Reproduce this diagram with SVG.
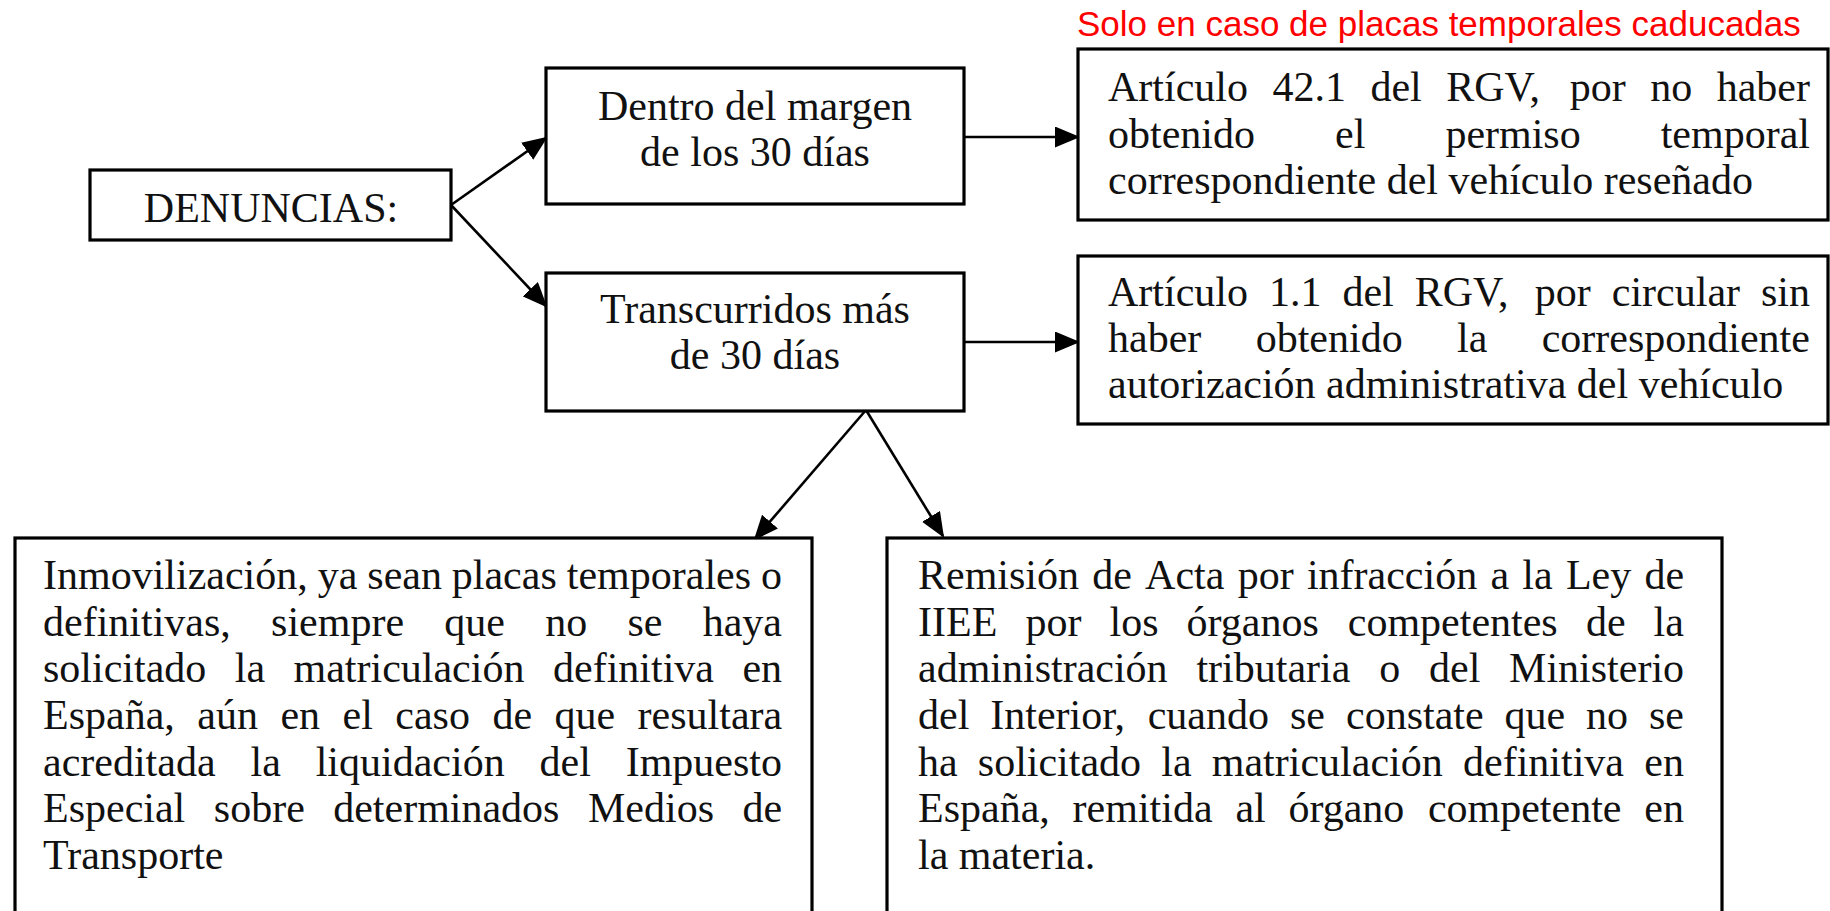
<svg xmlns="http://www.w3.org/2000/svg" width="1830" height="911" viewBox="0 0 1830 911">
<style>
.box { fill: #ffffff; stroke: #000000; stroke-width: 3.2; }
.t { font-family: "Liberation Serif", "Times New Roman", serif; font-size: 42px; fill: #111111; }
.c { text-anchor: middle; }
.red { font-family: "Liberation Sans", Arial, sans-serif; font-size: 35px; fill: #ff0000; }
.conn { stroke: #000000; stroke-width: 2.6; fill: none; marker-end: url(#arrow); }
</style>
<defs>
<marker id="arrow" markerUnits="userSpaceOnUse" markerWidth="25" markerHeight="21" refX="23" refY="10.5" orient="auto">
<path d="M0,0 L25,10.5 L0,21 z" fill="#000000"/>
</marker>
</defs>
<rect x="0" y="0" width="1830" height="911" fill="#ffffff"/>

<g id="connectors">
<path class="conn" d="M451,205 L546,138"/>
<path class="conn" d="M451,205 L546,306"/>
<path class="conn" d="M964,137 L1078,137"/>
<path class="conn" d="M964,342 L1078,342"/>
<path class="conn" d="M866,410 L755,539"/>
<path class="conn" d="M866,410 L943,536"/>
</g>

<g id="note-red">
<text class="red" x="1077" y="36">Solo en caso de placas temporales caducadas</text>
</g>

<g id="node-denuncias">
<rect class="box" x="90" y="170" width="361" height="70"/>
<text class="t c" x="271" y="222">DENUNCIAS:</text>
</g>

<g id="node-dentro">
<rect class="box" x="546" y="68" width="418" height="136"/>
<text class="t c" x="755" y="120">Dentro del margen</text>
<text class="t c" x="755" y="166">de los 30 días</text>
</g>

<g id="node-transcurridos">
<rect class="box" x="546" y="273" width="418" height="138"/>
<text class="t c" x="755" y="323">Transcurridos más</text>
<text class="t c" x="755" y="369">de 30 días</text>
</g>

<g id="node-art42">
<rect class="box" x="1078" y="49" width="750" height="171"/>
<text class="t" y="101"><tspan x="1108">Artículo</tspan> <tspan x="1272.4">42.1</tspan> <tspan x="1370.4">del</tspan> <tspan x="1446.2">RGV,</tspan> <tspan x="1569.8">por</tspan> <tspan x="1650.3">no</tspan> <tspan x="1716.7">haber</tspan></text>
<text class="t" y="148"><tspan x="1108">obtenido</tspan> <tspan x="1335">el</tspan> <tspan x="1445.4">permiso</tspan> <tspan x="1660.7">temporal</tspan></text>
<text class="t" x="1108" y="194">correspondiente del vehículo reseñado</text>
</g>

<g id="node-art1">
<rect class="box" x="1078" y="256" width="750" height="168"/>
<text class="t" y="306"><tspan x="1108">Artículo</tspan> <tspan x="1269">1.1</tspan> <tspan x="1342.4">del</tspan> <tspan x="1414.7">RGV,</tspan> <tspan x="1534.8">por</tspan> <tspan x="1611.8">circular</tspan> <tspan x="1761">sin</tspan></text>
<text class="t" y="352"><tspan x="1108">haber</tspan> <tspan x="1255.7">obtenido</tspan> <tspan x="1457">la</tspan> <tspan x="1541.7">correspondiente</tspan></text>
<text class="t" x="1108" y="398">autorización administrativa del vehículo</text>
</g>

<g id="node-inmovilizacion">
<rect class="box" x="15" y="538" width="797" height="420"/>
<text class="t" y="589"><tspan x="43">Inmovilización,</tspan> <tspan x="317.7">ya</tspan> <tspan x="367.3">sean</tspan> <tspan x="451.8">placas</tspan> <tspan x="566.8">temporales</tspan> <tspan x="761">o</tspan></text>
<text class="t" y="635.7"><tspan x="43">definitivas,</tspan> <tspan x="271.1">siempre</tspan> <tspan x="444.3">que</tspan> <tspan x="545.2">no</tspan> <tspan x="627.5">se</tspan> <tspan x="702.7">haya</tspan></text>
<text class="t" y="682.3"><tspan x="43">solicitado</tspan> <tspan x="234.8">la</tspan> <tspan x="293.5">matriculación</tspan> <tspan x="553">definitiva</tspan> <tspan x="742.4">en</tspan></text>
<text class="t" y="729"><tspan x="43">España,</tspan> <tspan x="197.3">aún</tspan> <tspan x="280.4">en</tspan> <tspan x="342.5">el</tspan> <tspan x="395.3">caso</tspan> <tspan x="492.4">de</tspan> <tspan x="554.5">que</tspan> <tspan x="637.6">resultara</tspan></text>
<text class="t" y="775.7"><tspan x="43">acreditada</tspan> <tspan x="250.5">la</tspan> <tspan x="315.7">liquidación</tspan> <tspan x="539.6">del</tspan> <tspan x="625.7">Impuesto</tspan></text>
<text class="t" y="822.3"><tspan x="43">Especial</tspan> <tspan x="213.8">sobre</tspan> <tspan x="333.2">determinados</tspan> <tspan x="588">Medios</tspan> <tspan x="742.4">de</tspan></text>
<text class="t" x="43" y="869">Transporte</text>
</g>

<g id="node-remision">
<rect class="box" x="887" y="538" width="835" height="420"/>
<text class="t" y="589"><tspan x="918">Remisión</tspan> <tspan x="1092.3">de</tspan> <tspan x="1145.1">Acta</tspan> <tspan x="1237.7">por</tspan> <tspan x="1306.9">infracción</tspan> <tspan x="1490.5">a</tspan> <tspan x="1522.3">la</tspan> <tspan x="1565.9">Ley</tspan> <tspan x="1644.4">de</tspan></text>
<text class="t" y="635.7"><tspan x="918">IIEE</tspan> <tspan x="1025.4">por</tspan> <tspan x="1109.5">los</tspan> <tspan x="1186.6">órganos</tspan> <tspan x="1347.8">competentes</tspan> <tspan x="1585.9">de</tspan> <tspan x="1653.6">la</tspan></text>
<text class="t" y="682.3"><tspan x="918">administración</tspan> <tspan x="1196.4">tributaria</tspan> <tspan x="1379.2">o</tspan> <tspan x="1429">del</tspan> <tspan x="1509.1">Ministerio</tspan></text>
<text class="t" y="729"><tspan x="918">del</tspan> <tspan x="990.3">Interior,</tspan> <tspan x="1147.7">cuando</tspan> <tspan x="1290">se</tspan> <tspan x="1346">constate</tspan> <tspan x="1504.5">que</tspan> <tspan x="1586.1">no</tspan> <tspan x="1649">se</tspan></text>
<text class="t" y="775.7"><tspan x="918">ha</tspan> <tspan x="977.8">solicitado</tspan> <tspan x="1161.3">la</tspan> <tspan x="1211.8">matriculación</tspan> <tspan x="1463">definitiva</tspan> <tspan x="1644.3">en</tspan></text>
<text class="t" y="822.3"><tspan x="918">España,</tspan> <tspan x="1072.6">remitida</tspan> <tspan x="1235.4">al</tspan> <tspan x="1288.5">órgano</tspan> <tspan x="1427.9">competente</tspan> <tspan x="1644.3">en</tspan></text>
<text class="t" x="918" y="869">la materia.</text>
</g>
</svg>
